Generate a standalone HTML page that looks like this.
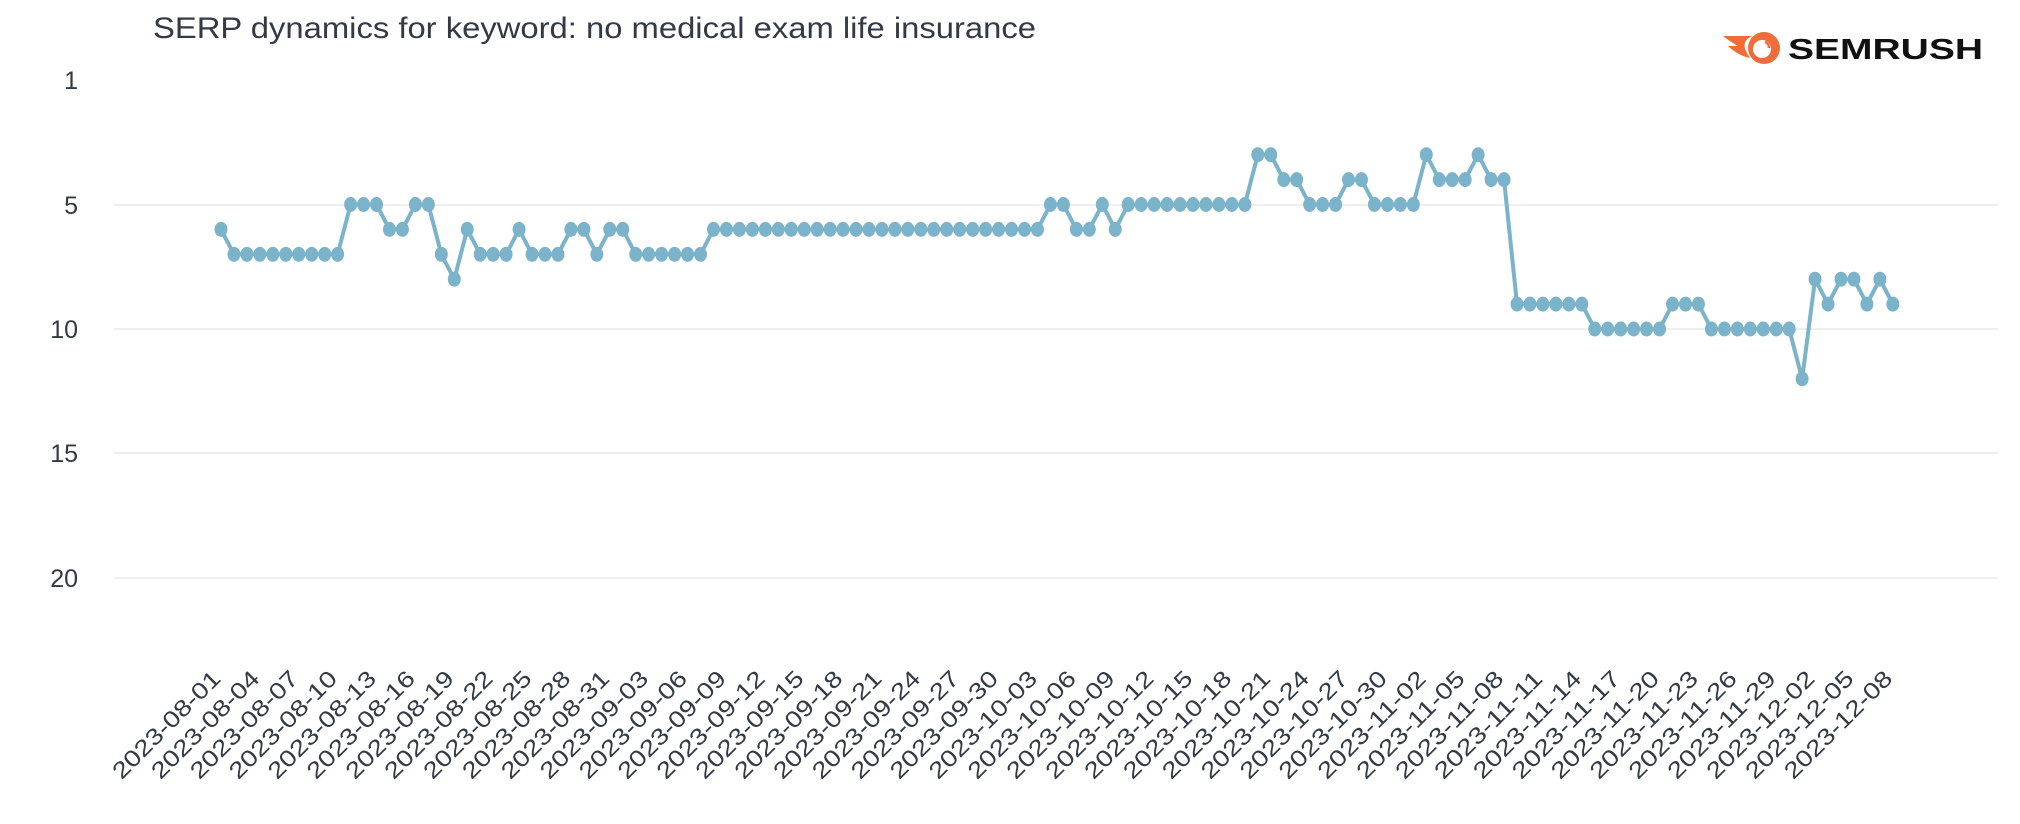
<!DOCTYPE html>
<html><head><meta charset="utf-8"><style>
html,body{margin:0;padding:0;background:#fff;}
svg{display:block;font-family:"Liberation Sans",sans-serif;}
</style></head><body>
<svg width="2020" height="824" viewBox="0 0 2020 824" xmlns="http://www.w3.org/2000/svg">
<text x="153" y="38" font-size="30" fill="#333a45" textLength="883" lengthAdjust="spacingAndGlyphs">SERP dynamics for keyword: no medical exam life insurance</text>
<g>
<path d="M1723,36 L1752,36 C1740,42 1745,50 1750,58 C1740,56 1732,50 1728,46 L1738,46 C1733,43 1728,40 1723,36 Z" fill="#ef6c3b"/>
<circle cx="1764" cy="48" r="16" fill="#ef6c3b"/>
<circle cx="1762" cy="49" r="9" fill="#fff"/>
<path d="M1765,42 a6,6 0 0 1 4,6" stroke="#ef6c3b" stroke-width="2.5" fill="none"/>
<text x="1788" y="59" font-size="29" font-weight="bold" fill="#111" textLength="195" lengthAdjust="spacingAndGlyphs">SEMRUSH</text>
</g>
<g fill="#333a45" font-size="25" text-anchor="end">
<text x="78" y="89">1</text>
<text x="78" y="214">5</text>
<text x="78" y="338">10</text>
<text x="78" y="462">15</text>
<text x="78" y="587">20</text>
</g>
<g stroke="#e8e8ea" stroke-width="1.5">
<line x1="114" y1="205" x2="1998" y2="205"/>
<line x1="114" y1="329" x2="1998" y2="329"/>
<line x1="114" y1="453" x2="1998" y2="453"/>
<line x1="114" y1="578" x2="1998" y2="578"/>
</g>
<g transform="translate(221,80) scale(12.96,24.9)" fill="#7ab3ca">
<polyline fill="none" stroke="#7ab3ca" stroke-width="4" stroke-linejoin="round" vector-effect="non-scaling-stroke" points="0,6 1,7 2,7 3,7 4,7 5,7 6,7 7,7 8,7 9,7 10,5 11,5 12,5 13,6 14,6 15,5 16,5 17,7 18,8 19,6 20,7 21,7 22,7 23,6 24,7 25,7 26,7 27,6 28,6 29,7 30,6 31,6 32,7 33,7 34,7 35,7 36,7 37,7 38,6 39,6 40,6 41,6 42,6 43,6 44,6 45,6 46,6 47,6 48,6 49,6 50,6 51,6 52,6 53,6 54,6 55,6 56,6 57,6 58,6 59,6 60,6 61,6 62,6 63,6 64,5 65,5 66,6 67,6 68,5 69,6 70,5 71,5 72,5 73,5 74,5 75,5 76,5 77,5 78,5 79,5 80,3 81,3 82,4 83,4 84,5 85,5 86,5 87,4 88,4 89,5 90,5 91,5 92,5 93,3 94,4 95,4 96,4 97,3 98,4 99,4 100,9 101,9 102,9 103,9 104,9 105,9 106,10 107,10 108,10 109,10 110,10 111,10 112,9 113,9 114,9 115,10 116,10 117,10 118,10 119,10 120,10 121,10 122,12 123,8 124,9 125,8 126,8 127,9 128,8 129,9"/>
<ellipse cx="0" cy="6" rx=".5" ry=".3"/><ellipse cx="1" cy="7" rx=".5" ry=".3"/><ellipse cx="2" cy="7" rx=".5" ry=".3"/><ellipse cx="3" cy="7" rx=".5" ry=".3"/><ellipse cx="4" cy="7" rx=".5" ry=".3"/><ellipse cx="5" cy="7" rx=".5" ry=".3"/><ellipse cx="6" cy="7" rx=".5" ry=".3"/><ellipse cx="7" cy="7" rx=".5" ry=".3"/><ellipse cx="8" cy="7" rx=".5" ry=".3"/><ellipse cx="9" cy="7" rx=".5" ry=".3"/>
<ellipse cx="10" cy="5" rx=".5" ry=".3"/><ellipse cx="11" cy="5" rx=".5" ry=".3"/><ellipse cx="12" cy="5" rx=".5" ry=".3"/><ellipse cx="13" cy="6" rx=".5" ry=".3"/><ellipse cx="14" cy="6" rx=".5" ry=".3"/><ellipse cx="15" cy="5" rx=".5" ry=".3"/><ellipse cx="16" cy="5" rx=".5" ry=".3"/><ellipse cx="17" cy="7" rx=".5" ry=".3"/><ellipse cx="18" cy="8" rx=".5" ry=".3"/><ellipse cx="19" cy="6" rx=".5" ry=".3"/>
<ellipse cx="20" cy="7" rx=".5" ry=".3"/><ellipse cx="21" cy="7" rx=".5" ry=".3"/><ellipse cx="22" cy="7" rx=".5" ry=".3"/><ellipse cx="23" cy="6" rx=".5" ry=".3"/><ellipse cx="24" cy="7" rx=".5" ry=".3"/><ellipse cx="25" cy="7" rx=".5" ry=".3"/><ellipse cx="26" cy="7" rx=".5" ry=".3"/><ellipse cx="27" cy="6" rx=".5" ry=".3"/><ellipse cx="28" cy="6" rx=".5" ry=".3"/><ellipse cx="29" cy="7" rx=".5" ry=".3"/>
<ellipse cx="30" cy="6" rx=".5" ry=".3"/><ellipse cx="31" cy="6" rx=".5" ry=".3"/><ellipse cx="32" cy="7" rx=".5" ry=".3"/><ellipse cx="33" cy="7" rx=".5" ry=".3"/><ellipse cx="34" cy="7" rx=".5" ry=".3"/><ellipse cx="35" cy="7" rx=".5" ry=".3"/><ellipse cx="36" cy="7" rx=".5" ry=".3"/><ellipse cx="37" cy="7" rx=".5" ry=".3"/><ellipse cx="38" cy="6" rx=".5" ry=".3"/><ellipse cx="39" cy="6" rx=".5" ry=".3"/>
<ellipse cx="40" cy="6" rx=".5" ry=".3"/><ellipse cx="41" cy="6" rx=".5" ry=".3"/><ellipse cx="42" cy="6" rx=".5" ry=".3"/><ellipse cx="43" cy="6" rx=".5" ry=".3"/><ellipse cx="44" cy="6" rx=".5" ry=".3"/><ellipse cx="45" cy="6" rx=".5" ry=".3"/><ellipse cx="46" cy="6" rx=".5" ry=".3"/><ellipse cx="47" cy="6" rx=".5" ry=".3"/><ellipse cx="48" cy="6" rx=".5" ry=".3"/><ellipse cx="49" cy="6" rx=".5" ry=".3"/>
<ellipse cx="50" cy="6" rx=".5" ry=".3"/><ellipse cx="51" cy="6" rx=".5" ry=".3"/><ellipse cx="52" cy="6" rx=".5" ry=".3"/><ellipse cx="53" cy="6" rx=".5" ry=".3"/><ellipse cx="54" cy="6" rx=".5" ry=".3"/><ellipse cx="55" cy="6" rx=".5" ry=".3"/><ellipse cx="56" cy="6" rx=".5" ry=".3"/><ellipse cx="57" cy="6" rx=".5" ry=".3"/><ellipse cx="58" cy="6" rx=".5" ry=".3"/><ellipse cx="59" cy="6" rx=".5" ry=".3"/>
<ellipse cx="60" cy="6" rx=".5" ry=".3"/><ellipse cx="61" cy="6" rx=".5" ry=".3"/><ellipse cx="62" cy="6" rx=".5" ry=".3"/><ellipse cx="63" cy="6" rx=".5" ry=".3"/><ellipse cx="64" cy="5" rx=".5" ry=".3"/><ellipse cx="65" cy="5" rx=".5" ry=".3"/><ellipse cx="66" cy="6" rx=".5" ry=".3"/><ellipse cx="67" cy="6" rx=".5" ry=".3"/><ellipse cx="68" cy="5" rx=".5" ry=".3"/><ellipse cx="69" cy="6" rx=".5" ry=".3"/>
<ellipse cx="70" cy="5" rx=".5" ry=".3"/><ellipse cx="71" cy="5" rx=".5" ry=".3"/><ellipse cx="72" cy="5" rx=".5" ry=".3"/><ellipse cx="73" cy="5" rx=".5" ry=".3"/><ellipse cx="74" cy="5" rx=".5" ry=".3"/><ellipse cx="75" cy="5" rx=".5" ry=".3"/><ellipse cx="76" cy="5" rx=".5" ry=".3"/><ellipse cx="77" cy="5" rx=".5" ry=".3"/><ellipse cx="78" cy="5" rx=".5" ry=".3"/><ellipse cx="79" cy="5" rx=".5" ry=".3"/>
<ellipse cx="80" cy="3" rx=".5" ry=".3"/><ellipse cx="81" cy="3" rx=".5" ry=".3"/><ellipse cx="82" cy="4" rx=".5" ry=".3"/><ellipse cx="83" cy="4" rx=".5" ry=".3"/><ellipse cx="84" cy="5" rx=".5" ry=".3"/><ellipse cx="85" cy="5" rx=".5" ry=".3"/><ellipse cx="86" cy="5" rx=".5" ry=".3"/><ellipse cx="87" cy="4" rx=".5" ry=".3"/><ellipse cx="88" cy="4" rx=".5" ry=".3"/><ellipse cx="89" cy="5" rx=".5" ry=".3"/>
<ellipse cx="90" cy="5" rx=".5" ry=".3"/><ellipse cx="91" cy="5" rx=".5" ry=".3"/><ellipse cx="92" cy="5" rx=".5" ry=".3"/><ellipse cx="93" cy="3" rx=".5" ry=".3"/><ellipse cx="94" cy="4" rx=".5" ry=".3"/><ellipse cx="95" cy="4" rx=".5" ry=".3"/><ellipse cx="96" cy="4" rx=".5" ry=".3"/><ellipse cx="97" cy="3" rx=".5" ry=".3"/><ellipse cx="98" cy="4" rx=".5" ry=".3"/><ellipse cx="99" cy="4" rx=".5" ry=".3"/>
<ellipse cx="100" cy="9" rx=".5" ry=".3"/><ellipse cx="101" cy="9" rx=".5" ry=".3"/><ellipse cx="102" cy="9" rx=".5" ry=".3"/><ellipse cx="103" cy="9" rx=".5" ry=".3"/><ellipse cx="104" cy="9" rx=".5" ry=".3"/><ellipse cx="105" cy="9" rx=".5" ry=".3"/><ellipse cx="106" cy="10" rx=".5" ry=".3"/><ellipse cx="107" cy="10" rx=".5" ry=".3"/><ellipse cx="108" cy="10" rx=".5" ry=".3"/><ellipse cx="109" cy="10" rx=".5" ry=".3"/>
<ellipse cx="110" cy="10" rx=".5" ry=".3"/><ellipse cx="111" cy="10" rx=".5" ry=".3"/><ellipse cx="112" cy="9" rx=".5" ry=".3"/><ellipse cx="113" cy="9" rx=".5" ry=".3"/><ellipse cx="114" cy="9" rx=".5" ry=".3"/><ellipse cx="115" cy="10" rx=".5" ry=".3"/><ellipse cx="116" cy="10" rx=".5" ry=".3"/><ellipse cx="117" cy="10" rx=".5" ry=".3"/><ellipse cx="118" cy="10" rx=".5" ry=".3"/><ellipse cx="119" cy="10" rx=".5" ry=".3"/>
<ellipse cx="120" cy="10" rx=".5" ry=".3"/><ellipse cx="121" cy="10" rx=".5" ry=".3"/><ellipse cx="122" cy="12" rx=".5" ry=".3"/><ellipse cx="123" cy="8" rx=".5" ry=".3"/><ellipse cx="124" cy="9" rx=".5" ry=".3"/><ellipse cx="125" cy="8" rx=".5" ry=".3"/><ellipse cx="126" cy="8" rx=".5" ry=".3"/><ellipse cx="127" cy="9" rx=".5" ry=".3"/><ellipse cx="128" cy="8" rx=".5" ry=".3"/><ellipse cx="129" cy="9" rx=".5" ry=".3"/>
</g>
<g fill="#333a45" font-size="23" text-anchor="end">
<text transform="translate(222.0,680) rotate(-45)" textLength="142" lengthAdjust="spacingAndGlyphs">2023-08-01</text>
<text transform="translate(260.9,680) rotate(-45)" textLength="142" lengthAdjust="spacingAndGlyphs">2023-08-04</text>
<text transform="translate(299.8,680) rotate(-45)" textLength="142" lengthAdjust="spacingAndGlyphs">2023-08-07</text>
<text transform="translate(338.6,680) rotate(-45)" textLength="142" lengthAdjust="spacingAndGlyphs">2023-08-10</text>
<text transform="translate(377.5,680) rotate(-45)" textLength="142" lengthAdjust="spacingAndGlyphs">2023-08-13</text>
<text transform="translate(416.4,680) rotate(-45)" textLength="142" lengthAdjust="spacingAndGlyphs">2023-08-16</text>
<text transform="translate(455.3,680) rotate(-45)" textLength="142" lengthAdjust="spacingAndGlyphs">2023-08-19</text>
<text transform="translate(494.2,680) rotate(-45)" textLength="142" lengthAdjust="spacingAndGlyphs">2023-08-22</text>
<text transform="translate(533.0,680) rotate(-45)" textLength="142" lengthAdjust="spacingAndGlyphs">2023-08-25</text>
<text transform="translate(571.9,680) rotate(-45)" textLength="142" lengthAdjust="spacingAndGlyphs">2023-08-28</text>
<text transform="translate(610.8,680) rotate(-45)" textLength="142" lengthAdjust="spacingAndGlyphs">2023-08-31</text>
<text transform="translate(649.7,680) rotate(-45)" textLength="142" lengthAdjust="spacingAndGlyphs">2023-09-03</text>
<text transform="translate(688.6,680) rotate(-45)" textLength="142" lengthAdjust="spacingAndGlyphs">2023-09-06</text>
<text transform="translate(727.4,680) rotate(-45)" textLength="142" lengthAdjust="spacingAndGlyphs">2023-09-09</text>
<text transform="translate(766.3,680) rotate(-45)" textLength="142" lengthAdjust="spacingAndGlyphs">2023-09-12</text>
<text transform="translate(805.2,680) rotate(-45)" textLength="142" lengthAdjust="spacingAndGlyphs">2023-09-15</text>
<text transform="translate(844.1,680) rotate(-45)" textLength="142" lengthAdjust="spacingAndGlyphs">2023-09-18</text>
<text transform="translate(883.0,680) rotate(-45)" textLength="142" lengthAdjust="spacingAndGlyphs">2023-09-21</text>
<text transform="translate(921.8,680) rotate(-45)" textLength="142" lengthAdjust="spacingAndGlyphs">2023-09-24</text>
<text transform="translate(960.7,680) rotate(-45)" textLength="142" lengthAdjust="spacingAndGlyphs">2023-09-27</text>
<text transform="translate(999.6,680) rotate(-45)" textLength="142" lengthAdjust="spacingAndGlyphs">2023-09-30</text>
<text transform="translate(1038.5,680) rotate(-45)" textLength="142" lengthAdjust="spacingAndGlyphs">2023-10-03</text>
<text transform="translate(1077.4,680) rotate(-45)" textLength="142" lengthAdjust="spacingAndGlyphs">2023-10-06</text>
<text transform="translate(1116.2,680) rotate(-45)" textLength="142" lengthAdjust="spacingAndGlyphs">2023-10-09</text>
<text transform="translate(1155.1,680) rotate(-45)" textLength="142" lengthAdjust="spacingAndGlyphs">2023-10-12</text>
<text transform="translate(1194.0,680) rotate(-45)" textLength="142" lengthAdjust="spacingAndGlyphs">2023-10-15</text>
<text transform="translate(1232.9,680) rotate(-45)" textLength="142" lengthAdjust="spacingAndGlyphs">2023-10-18</text>
<text transform="translate(1271.8,680) rotate(-45)" textLength="142" lengthAdjust="spacingAndGlyphs">2023-10-21</text>
<text transform="translate(1310.6,680) rotate(-45)" textLength="142" lengthAdjust="spacingAndGlyphs">2023-10-24</text>
<text transform="translate(1349.5,680) rotate(-45)" textLength="142" lengthAdjust="spacingAndGlyphs">2023-10-27</text>
<text transform="translate(1388.4,680) rotate(-45)" textLength="142" lengthAdjust="spacingAndGlyphs">2023-10-30</text>
<text transform="translate(1427.3,680) rotate(-45)" textLength="142" lengthAdjust="spacingAndGlyphs">2023-11-02</text>
<text transform="translate(1466.2,680) rotate(-45)" textLength="142" lengthAdjust="spacingAndGlyphs">2023-11-05</text>
<text transform="translate(1505.0,680) rotate(-45)" textLength="142" lengthAdjust="spacingAndGlyphs">2023-11-08</text>
<text transform="translate(1543.9,680) rotate(-45)" textLength="142" lengthAdjust="spacingAndGlyphs">2023-11-11</text>
<text transform="translate(1582.8,680) rotate(-45)" textLength="142" lengthAdjust="spacingAndGlyphs">2023-11-14</text>
<text transform="translate(1621.7,680) rotate(-45)" textLength="142" lengthAdjust="spacingAndGlyphs">2023-11-17</text>
<text transform="translate(1660.6,680) rotate(-45)" textLength="142" lengthAdjust="spacingAndGlyphs">2023-11-20</text>
<text transform="translate(1699.4,680) rotate(-45)" textLength="142" lengthAdjust="spacingAndGlyphs">2023-11-23</text>
<text transform="translate(1738.3,680) rotate(-45)" textLength="142" lengthAdjust="spacingAndGlyphs">2023-11-26</text>
<text transform="translate(1777.2,680) rotate(-45)" textLength="142" lengthAdjust="spacingAndGlyphs">2023-11-29</text>
<text transform="translate(1816.1,680) rotate(-45)" textLength="142" lengthAdjust="spacingAndGlyphs">2023-12-02</text>
<text transform="translate(1855.0,680) rotate(-45)" textLength="142" lengthAdjust="spacingAndGlyphs">2023-12-05</text>
<text transform="translate(1893.8,680) rotate(-45)" textLength="142" lengthAdjust="spacingAndGlyphs">2023-12-08</text>
</g>
</svg>
</body></html>
